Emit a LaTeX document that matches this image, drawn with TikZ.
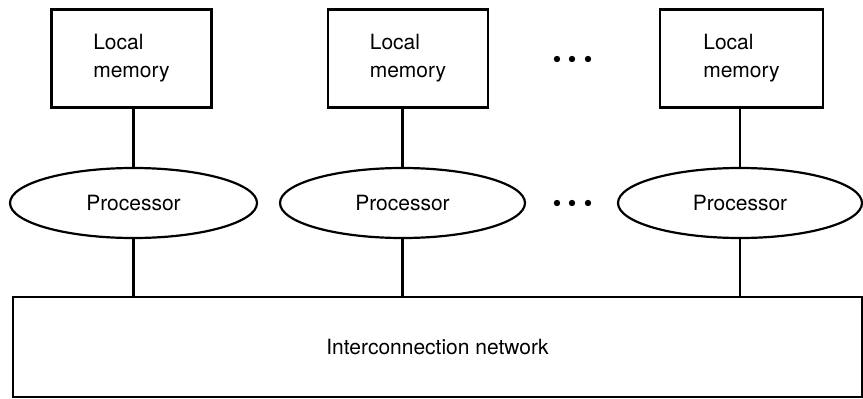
\documentclass[tikz,border=0pt]{standalone}
\usepackage{fontspec}
\setmainfont{TeX Gyre Heros}
\usepackage{tikz}
\usetikzlibrary{shapes.geometric}
\tikzstyle{memory} = [rectangle, 
minimum width=160pt, 
minimum height=98pt,
align=left,
outer sep=0pt,
line width=2.2pt,
font=\fontsize{21}{28}\selectfont,
draw=black]
\tikzstyle{proc} = [ellipse, 
minimum width=245pt, 
minimum height=70pt,
outer sep=0pt,
line width=2.2pt,
font=\fontsize{21}{24}\selectfont,
draw=black]
\tikzstyle{network} = [rectangle, 
minimum width=849pt, 
minimum height=100pt,
outer sep=0pt,
line width=2.2pt,
font=\fontsize{21}{24}\selectfont,
draw=black]
\tikzstyle{link} = [line width=2.2pt]

\begin{document}
\begin{tikzpicture}
\useasboundingbox (0pt,0pt) rectangle (863pt,-399pt);
\node (mem1) [memory, xshift=131.5pt, yshift=-58.5pt] {Local\\memory};
\node (mem2) [memory, xshift=408pt, yshift=-58.5pt] {Local\\memory};
\node (mem3) [memory, xshift=741.5pt, yshift=-58.5pt, minimum width=163pt] {Local\\memory};
\node (proc1) [proc, xshift=133.5pt, yshift=-203pt, minimum width=247pt] {Processor};
\node (proc2) [proc, xshift=402.5pt, yshift=-203pt] {Processor};
\node (proc3) [proc, xshift=740pt, yshift=-203pt, minimum width=244pt] {Processor};
\node (net) [network, xshift=437.5pt, yshift=-347pt] {Interconnection network};

% dots between the columns
\foreach \x in {557,572,588} {
\fill (\x pt,-59pt) circle (3.2pt);
\fill (\x pt,-203pt) circle (3.2pt);
}

\draw [link] (proc1.north |- mem1.south) -- (proc1.north);
\draw [link] (proc2.north |- mem2.south) -- (proc2.north);
\draw [link] (proc3.north |- mem3.south) -- (proc3.north);
\draw [link] (proc1.south) -- (proc1.south |- net.north);
\draw [link] (proc2.south) -- (proc2.south |- net.north);
\draw [link] (proc3.south) -- (proc3.south |- net.north);

\end{tikzpicture}
\end{document}
